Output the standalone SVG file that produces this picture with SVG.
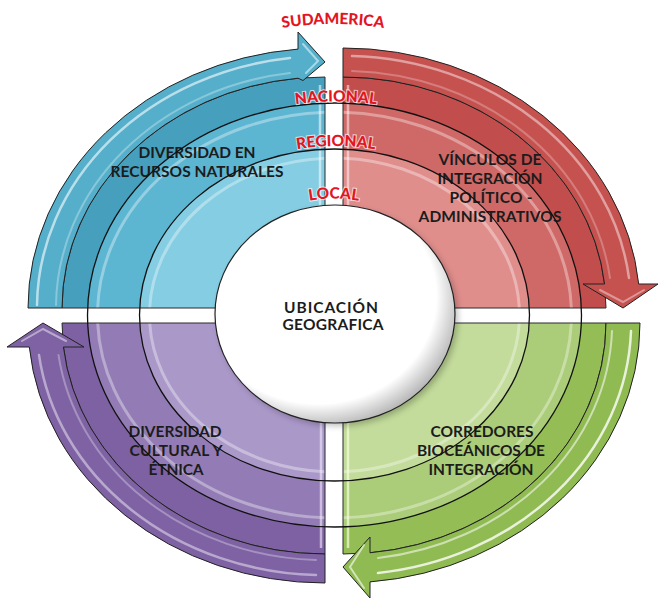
<svg xmlns="http://www.w3.org/2000/svg" width="660" height="600" viewBox="0 0 660 600">
<style>
.qt{font-family:Lato,"Liberation Sans",sans-serif;font-weight:bold;font-size:15.5px;fill:#1c1c1c;text-anchor:middle}
.rl{font-family:Lato,"Liberation Sans",sans-serif;font-weight:900;font-size:15.5px;fill:#e3161f;stroke:#ffffff;stroke-width:2;stroke-opacity:.7;paint-order:stroke;text-anchor:middle}
.edge{fill:none;stroke:#2b2b2b;stroke-width:1}
.arrow{stroke:#222;stroke-width:1;stroke-linejoin:round}
.hl{fill:none;stroke:#ffffff;stroke-linecap:round}
.ring{fill:none;stroke:#111;stroke-width:1.3}
.glow{fill:none;stroke:#ffffff;stroke-opacity:.35;stroke-width:3}
</style>
<defs>
<clipPath id="cBlue"><path d="M 325 308 L 62 308 A 263 231 0 0 1 325 77 Z"/></clipPath>
<clipPath id="cRed"><path d="M 343 308 L 343 77 A 263 231 0 0 1 606 308 Z"/></clipPath>
<clipPath id="cGreen"><path d="M 343 323 L 606 323 A 263 231 0 0 1 343 554 Z"/></clipPath>
<clipPath id="cPurple"><path d="M 325 323 L 325 554 A 263 231 0 0 1 62 323 Z"/></clipPath>
<radialGradient id="gCenter" cx="0.43" cy="0.42" r="0.6">
<stop offset="0.82" stop-color="#ffffff"/>
<stop offset="1" stop-color="#b9b9b9"/>
</radialGradient>
<filter id="blur" x="-20%" y="-20%" width="140%" height="140%"><feGaussianBlur stdDeviation="3"/></filter>
<path id="pSud" d="M 233 40 A 320 320 0 0 1 433 40"/>
<path id="pNac" d="M 236 119.4 A 288 288 0 0 1 436 119.4"/>
<path id="pReg" d="M 246 164.4 A 229 229 0 0 1 426 164.4"/>
<path id="pLoc" d="M 274 212 A 140 140 0 0 1 394 212"/>
</defs>
<rect width="660" height="600" fill="#ffffff"/>

<g id="node-blue">
<g clip-path="url(#cBlue)">
<rect width="660" height="600" fill="#479fbe"/>
<ellipse cx="334.5" cy="315" rx="247" ry="212" fill="#5cb5d1"/>
<ellipse cx="334.5" cy="315" rx="195" ry="166" fill="#84cde2"/>
<ellipse class="glow" cx="334.5" cy="315" rx="237" ry="203"/>
<ellipse class="glow" cx="334.5" cy="315" rx="185" ry="157"/>
<line x1="320" y1="85" x2="320" y2="305" stroke="#ffffff" stroke-opacity=".55" stroke-width="2.5"/>
</g>
<path class="edge" d="M 325 308 L 62 308 A 263 231 0 0 1 325 77 Z"/>
<path class="arrow" fill="#55afcb" d="M 28 308 A 297 260 0 0 1 298 49.1 L 298 32 L 325 62 L 303 80.5 L 298 78.2 A 263 231 0 0 0 62 308 Z"/>
<path class="hl" stroke-opacity=".6" stroke-width="2.5" d="M 37 305 A 288 252 0 0 1 290 58"/>
<path class="hl" stroke-opacity=".3" stroke-width="2" d="M 56 305 A 269 237 0 0 1 290 73"/>
<path class="hl" stroke-opacity=".5" stroke-width="2" d="M 303 44 L 318 61 L 306 73"/>
<text class="qt" x="197" y="158" textLength="117">DIVERSIDAD EN</text>
<text class="qt" x="197" y="177" textLength="173">RECURSOS NATURALES</text>
</g>

<g id="node-red">
<g clip-path="url(#cRed)">
<rect width="660" height="600" fill="#c14e4c"/>
<ellipse cx="334.5" cy="315" rx="247" ry="212" fill="#cf6967"/>
<ellipse cx="334.5" cy="315" rx="195" ry="166" fill="#e08e8c"/>
<ellipse class="glow" cx="334.5" cy="315" rx="237" ry="203"/>
<ellipse class="glow" cx="334.5" cy="315" rx="185" ry="157"/>
<line x1="348" y1="85" x2="348" y2="305" stroke="#ffffff" stroke-opacity=".5" stroke-width="2.5"/>
</g>
<path class="edge" d="M 343 308 L 343 77 A 263 231 0 0 1 606 308 Z"/>
<path class="arrow" fill="#c65250" d="M 343 48 A 297 260 0 0 1 638.7 284 L 658 284 L 623 308 L 583 284 L 604.6 284 A 263 231 0 0 0 343 77 Z"/>
<path class="hl" stroke-opacity=".45" stroke-width="2.5" d="M 352 56 A 288 252 0 0 1 629 278"/>
<path class="hl" stroke-opacity=".25" stroke-width="2" d="M 352 71 A 269 237 0 0 1 610 278"/>
<path class="hl" stroke-opacity=".4" stroke-width="2" d="M 600 290 L 623 302 L 644 290"/>
<text class="qt" x="490" y="165" textLength="103">VÍNCULOS DE</text>
<text class="qt" x="490" y="184" textLength="105">INTEGRACIÓN</text>
<text class="qt" x="491" y="203" textLength="83">POLÍTICO -</text>
<text class="qt" x="490" y="222" textLength="143">ADMINISTRATIVOS</text>
</g>

<g id="node-green">
<g clip-path="url(#cGreen)">
<rect width="660" height="600" fill="#94bd56"/>
<ellipse cx="334.5" cy="315" rx="247" ry="212" fill="#abcc78"/>
<ellipse cx="334.5" cy="315" rx="195" ry="166" fill="#c3dc9b"/>
<ellipse class="glow" cx="334.5" cy="315" rx="237" ry="203"/>
<ellipse class="glow" cx="334.5" cy="315" rx="185" ry="157"/>
<line x1="348" y1="328" x2="348" y2="548" stroke="#f4ffd8" stroke-opacity=".7" stroke-width="2.5"/>
</g>
<path class="edge" d="M 343 323 L 606 323 A 263 231 0 0 1 343 554 Z"/>
<path class="arrow" fill="#90bb52" d="M 640 323 A 297 260 0 0 1 370 581.9 L 370 598 L 343 567 L 370 537 L 370 552.8 A 263 231 0 0 0 606 323 Z"/>
<path class="hl" stroke="#f4ffd0" stroke-opacity=".8" stroke-width="2.5" d="M 631 331 A 288 252 0 0 1 378 573"/>
<path class="hl" stroke="#f4ffd0" stroke-opacity=".55" stroke-width="2" d="M 612 331 A 269 237 0 0 1 378 558"/>
<path class="hl" stroke="#f4ffd0" stroke-opacity=".6" stroke-width="2" d="M 364 545 L 350 567 L 364 588"/>
<text class="qt" x="482" y="437" textLength="103">CORREDORES</text>
<text class="qt" x="481" y="456" textLength="128">BIOCEÁNICOS DE</text>
<text class="qt" x="481" y="475" textLength="105">INTEGRACIÓN</text>
</g>

<g id="node-purple">
<g clip-path="url(#cPurple)">
<rect width="660" height="600" fill="#7d61a2"/>
<ellipse cx="334.5" cy="315" rx="247" ry="212" fill="#937cb5"/>
<ellipse cx="334.5" cy="315" rx="195" ry="166" fill="#aa98c9"/>
<ellipse class="glow" cx="334.5" cy="315" rx="237" ry="203"/>
<ellipse class="glow" cx="334.5" cy="315" rx="185" ry="157"/>
<line x1="321" y1="328" x2="321" y2="548" stroke="#f2eaff" stroke-opacity=".6" stroke-width="2.5"/>
</g>
<path class="edge" d="M 325 323 L 325 554 A 263 231 0 0 1 62 323 Z"/>
<path class="arrow" fill="#7e62a4" d="M 325 583 A 297 260 0 0 1 29.3 347 L 7 347 L 43 323 L 84 347 L 63.4 347 A 263 231 0 0 0 325 554 Z"/>
<path class="hl" stroke-opacity=".45" stroke-width="2.5" d="M 316 575 A 288 252 0 0 1 39 355"/>
<path class="hl" stroke-opacity=".3" stroke-width="2" d="M 316 560 A 269 237 0 0 1 58.5 355"/>
<path class="hl" stroke-opacity=".45" stroke-width="2" d="M 22 341 L 43 329 L 66 341"/>
<text class="qt" x="175" y="437" textLength="93">DIVERSIDAD</text>
<text class="qt" x="176" y="456" textLength="93">CULTURAL Y</text>
<text class="qt" x="176" y="475" textLength="55">ÉTNICA</text>
</g>

<g id="connectors">
<ellipse class="ring" cx="334.5" cy="315" rx="247" ry="212"/>
<ellipse class="ring" cx="334.5" cy="315" rx="195" ry="166"/>
</g>

<g id="node-center">
<ellipse cx="338" cy="317" rx="120" ry="109" fill="#000" opacity=".25" filter="url(#blur)"/>
<ellipse cx="335" cy="314" rx="120" ry="109" fill="url(#gCenter)" stroke="#222" stroke-width="1.2"/>
<text class="qt" x="331" y="313" textLength="94">UBICACIÓN</text>
<text class="qt" x="333" y="330" textLength="101">GEOGRAFICA</text>
</g>

<g id="ring-labels">
<text class="rl"><textPath href="#pSud" startOffset="50%">SUDAMERICA</textPath></text>
<text class="rl"><textPath href="#pNac" startOffset="50%">NACIONAL</textPath></text>
<text class="rl"><textPath href="#pReg" startOffset="50%">REGIONAL</textPath></text>
<text class="rl"><textPath href="#pLoc" startOffset="50%">LOCAL</textPath></text>
</g>
</svg>
